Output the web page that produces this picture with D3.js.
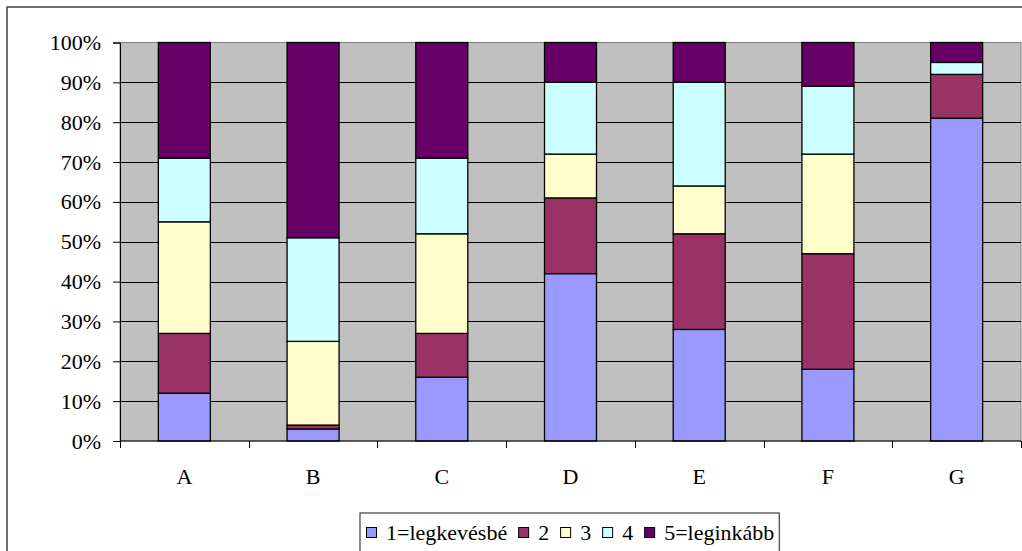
<!DOCTYPE html>
<html>
<head>
<meta charset="utf-8">
<script src="https://cdn.jsdelivr.net/npm/d3@7/dist/d3.min.js"></script>
<style>
  html, body { margin: 0; padding: 0; background: #fff; }
  svg { display: block; }
</style>
</head>
<body>
<svg id="chart" width="1022" height="551"></svg>
<script>
// Categories and the share (%) of each answer level per category
const categories = ["A", "B", "C", "D", "E", "F", "G"];
const seriesNames = ["1=legkevésbé", "2", "3", "4", "5=leginkább"];
const level1 = [12, 3, 16, 42, 28, 18, 81];
const level2 = [15, 1, 11, 19, 24, 29, 11];
const level3 = [28, 21, 25, 11, 12, 25, 0];
const level4 = [16, 26, 19, 18, 26, 17, 3];
const level5 = [29, 49, 29, 10, 10, 11, 5];
const yTicks = [0, 10, 20, 30, 40, 50, 60, 70, 80, 90, 100];
const colors = ["#9999FF", "#993366", "#FFFFCC", "#CCFFFF", "#660066"];

const FONT = "Liberation Serif";

const seriesValues = [level1, level2, level3, level4, level5];
const rows = categories.map((c, i) => {
  const r = { cat: c };
  seriesNames.forEach((s, k) => { r[s] = seriesValues[k][i]; });
  return r;
});

const svg = d3.select("#chart");

function styleText(sel) {
  sel.style("font-family", FONT).style("font-size", "22px").style("fill", "#000");
}

// outer chart frame (runs past the right and bottom edges)
svg.append("rect")
  .attr("x", 7).attr("y", 7).attr("width", 1030).attr("height", 560)
  .attr("fill", "none").attr("stroke", "#404040").attr("stroke-width", 1.5);

const plot = { left: 120, top: 42.5, right: 1021, bottom: 441 };

const xBand = d3.scaleBand().domain(categories).range([plot.left, plot.right]);
const y = d3.scaleLinear().domain([0, 100]).range([plot.bottom, plot.top]);
const barWidth = 52;

// plot background
svg.append("rect")
  .attr("x", plot.left).attr("y", plot.top)
  .attr("width", plot.right - plot.left).attr("height", plot.bottom - plot.top)
  .attr("fill", "#C0C0C0").attr("stroke", "#808080").attr("stroke-width", 1);

// horizontal gridlines
svg.append("g")
  .selectAll("line")
  .data(yTicks.filter(t => t > 0 && t < 100))
  .join("line")
  .attr("x1", plot.left).attr("x2", plot.right)
  .attr("y1", d => Math.round(y(d)) + 0.5).attr("y2", d => Math.round(y(d)) + 0.5)
  .attr("stroke", "#000").attr("stroke-width", 1);

// stacked bars
const stacked = d3.stack().keys(seriesNames)(rows);

svg.append("g")
  .selectAll("g")
  .data(stacked)
  .join("g")
  .attr("fill", (d, i) => colors[i])
  .selectAll("rect")
  .data(d => d.filter(p => p[1] - p[0] > 0))
  .join("rect")
  .attr("x", d => xBand(d.data.cat) + xBand.bandwidth() / 2 - barWidth / 2)
  .attr("width", barWidth)
  .attr("y", d => y(d[1]))
  .attr("height", d => y(d[0]) - y(d[1]))
  .attr("stroke", "#000").attr("stroke-width", 1.3);

// y axis
const yAxis = d3.axisLeft(y)
  .tickValues(yTicks)
  .tickSize(7).tickPadding(12)
  .tickFormat(d => d + "%");
const gy = svg.append("g")
  .attr("transform", `translate(${plot.left},0)`)
  .call(yAxis);
gy.select(".domain").attr("stroke", "#000");
gy.selectAll(".tick line").attr("stroke", "#000");
gy.selectAll("text").call(styleText);

// x axis: ticks on category boundaries
const gx = svg.append("g")
  .attr("transform", `translate(0,${plot.bottom})`);
gx.append("line")
  .attr("x1", plot.left).attr("x2", plot.right)
  .attr("y1", 0).attr("y2", 0)
  .attr("stroke", "#000");
const bounds = categories.map(c => xBand(c)).concat([plot.right]);
gx.selectAll("line.tk")
  .data(bounds)
  .join("line")
  .attr("class", "tk")
  .attr("x1", d => Math.round(d) + 0.5).attr("x2", d => Math.round(d) + 0.5)
  .attr("y1", 0).attr("y2", 7)
  .attr("stroke", "#000");
gx.selectAll("text")
  .data(categories)
  .join("text")
  .attr("x", d => xBand(d) + xBand.bandwidth() / 2)
  .attr("y", 43)
  .attr("text-anchor", "middle")
  .text(d => d)
  .call(styleText);

// legend
const legend = svg.append("g");
const legendBox = legend.append("rect")
  .attr("fill", "#fff").attr("stroke", "#404040").attr("stroke-width", 1.2);
let lx = 366;
let lastEnd = lx;
legend.selectAll("g.item").data(seriesNames).join("g").attr("class", "item")
  .each(function (d, i) {
    const g = d3.select(this);
    g.append("rect")
      .attr("x", lx + 0.5).attr("y", 527.5).attr("width", 10).attr("height", 10)
      .attr("fill", colors[i]).attr("stroke", "#000").attr("stroke-width", 1);
    const t = g.append("text").attr("x", lx + 20).attr("y", 540).text(d).call(styleText);
    lastEnd = lx + 20 + t.node().getComputedTextLength();
    lx = lastEnd + 11;
  });
legendBox.attr("x", 360).attr("y", 513).attr("width", lastEnd + 5 - 360).attr("height", 60);
</script>
</body>
</html>
